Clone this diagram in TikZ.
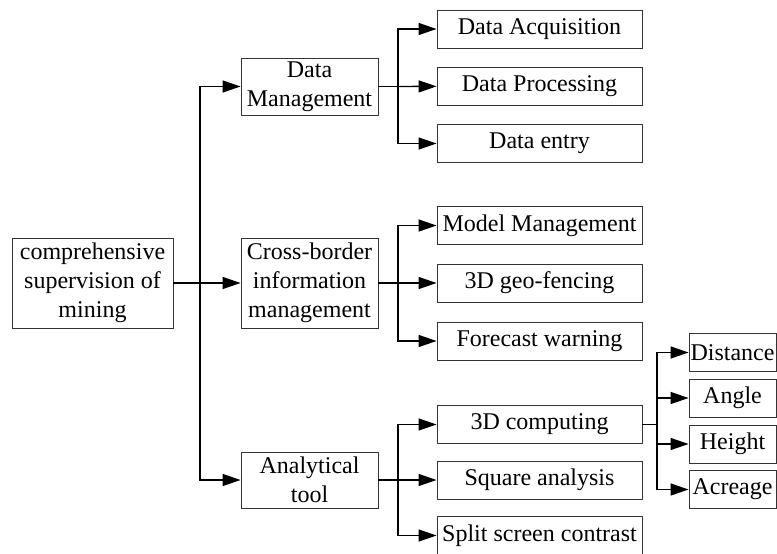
\documentclass[tikz,border=0pt]{standalone}
\usepackage{fontspec}
\setmainfont{Liberation Serif}
\usetikzlibrary{arrows.meta}

\begin{document}
\begin{tikzpicture}[x=1pt,y=-1pt,
	box/.style={draw=black!80,line width=0.9pt,inner sep=0pt,align=center,font=\fontsize{24}{29}\selectfont},
	topbox/.style={box,minimum width=137pt,minimum height=57pt},
	leafbox/.style={box,minimum width=205pt,minimum height=38pt},
	endbox/.style={box,minimum width=87pt,minimum height=38pt},
	link/.style={line width=1.4pt},
	arr/.style={line width=1.4pt,-{Triangle[length=18pt,width=12pt]}}]
	\useasboundingbox (0,0) rectangle (777,554);
	\node[box,minimum width=161pt,minimum height=90pt] (root) at (92.5,283) {comprehensive\\supervision of\\mining};
	\node[topbox] (dm) at (309.5,86.5) {Data\\Management};
	\node[topbox,minimum height=90pt] (cb) at (309.5,283) {Cross-border\\information\\management};
	\node[topbox,minimum height=56pt] (at) at (309.5,480) {Analytical\\tool};
	\node[leafbox] (da) at (539.5,29) {Data Acquisition};
	\node[leafbox] (dp) at (539.5,86) {Data Processing};
	\node[leafbox] (de) at (539.5,143.5) {Data entry};
	\node[leafbox] (mm) at (539.5,225.5) {Model Management};
	\node[leafbox] (gf) at (539.5,283) {3D geo-fencing};
	\node[leafbox] (fw) at (539.5,341) {Forecast warning};
	\node[leafbox] (cc) at (539.5,424.5) {3D computing};
	\node[leafbox] (sa) at (539.5,480) {Square analysis};
	\node[leafbox] (ss) at (539.5,535.5) {Split screen contrast};
	\node[endbox] (dist) at (732.5,352.5) {Distance};
	\node[endbox] (ang) at (732.5,398) {Angle};
	\node[endbox] (hgt) at (732.5,444) {Height};
	\node[endbox] (acr) at (732.5,489.5) {Acreage};
	\coordinate (j0) at (200,283);
	\coordinate (j1) at (398,86.5);
	\coordinate (j2) at (398,283);
	\coordinate (j3) at (398,480);
	\coordinate (j4) at (657,424.5);
	\draw[link] (root) -- (j0);
	\draw[arr] (j0) |- (dm);
	\draw[arr] (j0) -- (cb);
	\draw[arr] (j0) |- (at);
	\draw[link] (dm) -- (j1);
	\draw[arr] (j1) |- (da);
	\draw[arr] (j1) -- (dp);
	\draw[arr] (j1) |- (de);
	\draw[link] (cb) -- (j2);
	\draw[arr] (j2) |- (mm);
	\draw[arr] (j2) -- (gf);
	\draw[arr] (j2) |- (fw);
	\draw[link] (at) -- (j3);
	\draw[arr] (j3) |- (cc);
	\draw[arr] (j3) -- (sa);
	\draw[arr] (j3) |- (ss);
	\draw[link] (cc) -- (j4);
	\draw[arr] (j4) |- (dist);
	\draw[arr] (j4) |- (ang);
	\draw[arr] (j4) |- (hgt);
	\draw[arr] (j4) |- (acr);
\end{tikzpicture}
\end{document}
